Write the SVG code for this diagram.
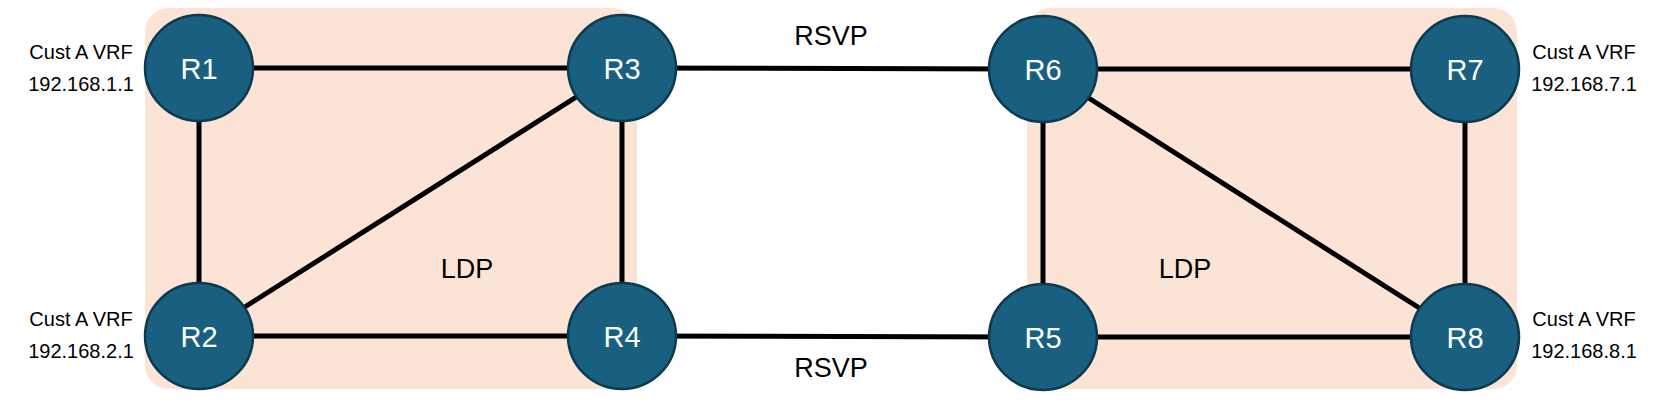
<svg xmlns="http://www.w3.org/2000/svg" width="1665" height="411" viewBox="0 0 1665 411">
<style>
.zone{fill:#fbe3d6}
.n{fill:#185f80;stroke:#0e3a4e;stroke-width:2.5}
.nl{font-family:"Liberation Sans",Arial,sans-serif;font-size:29px;fill:#fff;text-anchor:middle}
.t{font-family:"Liberation Sans",Arial,sans-serif;font-size:20px;fill:#000;text-anchor:middle}
.big{font-family:"Liberation Sans",Arial,sans-serif;font-size:27px;fill:#000;text-anchor:middle}
.e{stroke:#000;stroke-width:5;fill:none}
</style>
<rect class="zone" x="145" y="8" width="492" height="381" rx="24"/>
<rect class="zone" x="1027" y="8" width="490" height="381" rx="24"/>
<g id="connectors">
<line class="e" x1="199" y1="68" x2="622" y2="68"/>
<line class="e" x1="199" y1="68" x2="199" y2="336"/>
<line class="e" x1="199" y1="336" x2="622" y2="68"/>
<line class="e" x1="622" y1="68" x2="622" y2="336"/>
<line class="e" x1="199" y1="336" x2="622" y2="336"/>
<line class="e" x1="622" y1="68" x2="1043" y2="69"/>
<line class="e" x1="622" y1="336" x2="1043" y2="337"/>
<line class="e" x1="1043" y1="69" x2="1465" y2="69"/>
<line class="e" x1="1043" y1="69" x2="1043" y2="337"/>
<line class="e" x1="1043" y1="69" x2="1465" y2="337"/>
<line class="e" x1="1465" y1="69" x2="1465" y2="337"/>
<line class="e" x1="1043" y1="337" x2="1465" y2="337"/>
</g>
<g id="R1"><ellipse class="n" cx="199" cy="68" rx="54" ry="53"/><text class="nl" x="199" y="79">R1</text></g>
<g id="R3"><ellipse class="n" cx="622" cy="68" rx="54" ry="53"/><text class="nl" x="622" y="79">R3</text></g>
<g id="R2"><ellipse class="n" cx="199" cy="336" rx="54" ry="53"/><text class="nl" x="199" y="347">R2</text></g>
<g id="R4"><ellipse class="n" cx="622" cy="336" rx="54" ry="53"/><text class="nl" x="622" y="347">R4</text></g>
<g id="R6"><ellipse class="n" cx="1043" cy="69" rx="54" ry="53"/><text class="nl" x="1043" y="80">R6</text></g>
<g id="R7"><ellipse class="n" cx="1465" cy="69" rx="54" ry="53"/><text class="nl" x="1465" y="80">R7</text></g>
<g id="R5"><ellipse class="n" cx="1043" cy="337" rx="54" ry="53"/><text class="nl" x="1043" y="348">R5</text></g>
<g id="R8"><ellipse class="n" cx="1465" cy="337" rx="54" ry="53"/><text class="nl" x="1465" y="348">R8</text></g>
<text class="t" x="81" y="59">Cust A VRF</text>
<text class="t" x="81" y="91">192.168.1.1</text>
<text class="t" x="81" y="326">Cust A VRF</text>
<text class="t" x="81" y="358">192.168.2.1</text>
<text class="t" x="1584" y="59">Cust A VRF</text>
<text class="t" x="1584" y="91">192.168.7.1</text>
<text class="t" x="1584" y="326">Cust A VRF</text>
<text class="t" x="1584" y="358">192.168.8.1</text>
<text class="big" x="831" y="45">RSVP</text>
<text class="big" x="831" y="377">RSVP</text>
<text class="big" x="467" y="278">LDP</text>
<text class="big" x="1185" y="278">LDP</text>
</svg>
